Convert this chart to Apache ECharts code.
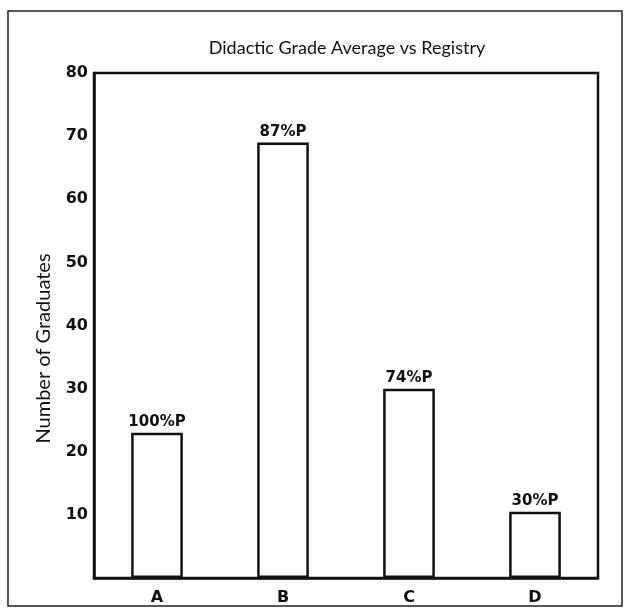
<!DOCTYPE html>
<html>
<head>
<meta charset="utf-8">
<script src="https://cdn.jsdelivr.net/npm/echarts@6/dist/echarts.min.js"></script>
<style>
  html, body { margin: 0; padding: 0; background: #fff; }
  #chart { width: 631px; height: 612px; }
</style>
</head>
<body>
<div id="chart"></div>
<script>
// Grade groups and number of graduates in each
const categories = ['A', 'B', 'C', 'D'];
const graduates = [23, 69, 30, 10.5];
// Registry pass rate for each group
const passLabels = ['100%P', '87%P', '74%P', '30%P'];
const yTicks = [10, 20, 30, 40, 50, 60, 70, 80];

const chart = echarts.init(document.getElementById('chart'), null, { renderer: 'canvas' });

chart.setOption({
  backgroundColor: '#ffffff',
  animation: false,
  title: {
    text: 'Didactic Grade Average vs Registry',
    left: 342,
    top: 34,
    textAlign: 'center',
    textStyle: { fontFamily: 'Lato', fontWeight: 'normal', fontSize: 18, color: '#111' }
  },
  graphic: [{
    type: 'rect',
    shape: { x: 8, y: 11, width: 614, height: 595 },
    style: { fill: 'none', stroke: '#222', lineWidth: 1.5 },
    z: -1
  }],
  grid: {
    left: 94, right: 33, top: 73, bottom: 34,
    show: true, borderColor: '#111', borderWidth: 2.5, backgroundColor: 'transparent'
  },
  xAxis: {
    type: 'category',
    data: categories,
    axisLine: { show: true, lineStyle: { color: '#111', width: 2.5 } },
    axisTick: { show: false },
    axisLabel: { margin: 12, fontFamily: 'DejaVu Sans', fontWeight: 'bold', fontSize: 16, color: '#111' }
  },
  yAxis: {
    type: 'value',
    min: 0, max: 80, interval: 10,
    name: 'Number of Graduates',
    nameLocation: 'middle',
    nameGap: 40,
    nameTextStyle: { fontFamily: 'Lato', fontSize: 20, color: '#111', padding: [0, 46, 0, 0] },
    axisLine: { show: true, lineStyle: { color: '#111', width: 2.5 } },
    axisTick: { show: false },
    splitLine: { show: false },
    axisLabel: {
      margin: 6,
      fontFamily: 'DejaVu Sans', fontWeight: 'bold', fontSize: 16, color: '#111',
      formatter: v => (yTicks.indexOf(v) >= 0 ? String(v) : '')
    }
  },
  series: [{
    type: 'bar',
    data: graduates,
    barWidth: '41%',
    itemStyle: { color: '#ffffff', borderColor: '#111', borderWidth: 2.5 },
    label: {
      show: true,
      position: 'top',
      distance: 3,
      fontFamily: 'DejaVu Sans', fontWeight: 'bold', fontSize: 15, color: '#111',
      formatter: p => passLabels[p.dataIndex]
    }
  }]
});
</script>
</body>
</html>
